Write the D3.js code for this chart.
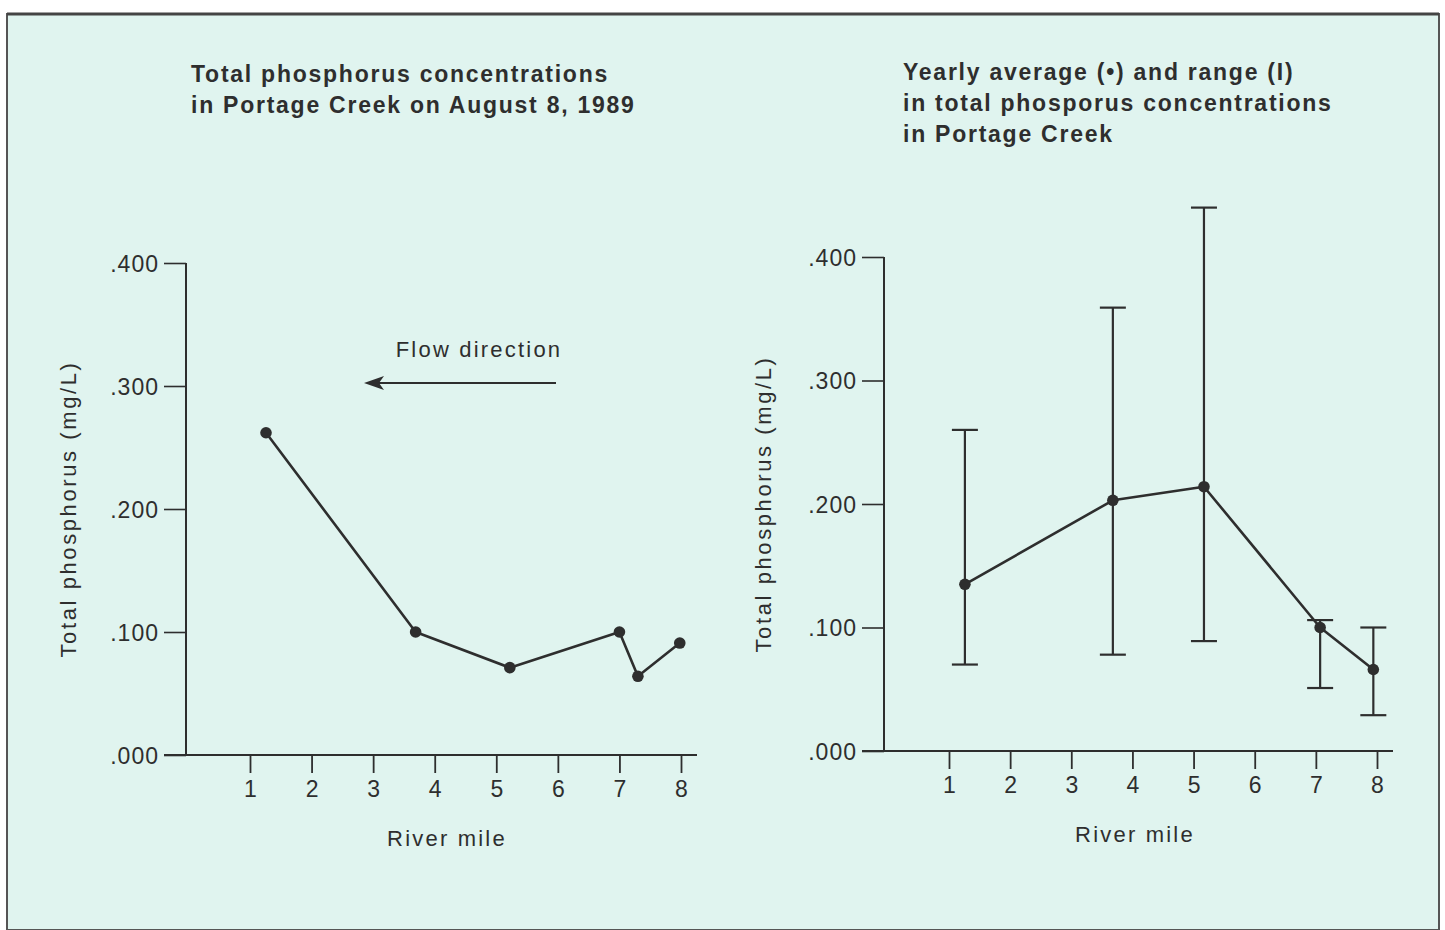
<!DOCTYPE html>
<html>
<head>
<meta charset="utf-8">
<script src="https://cdn.jsdelivr.net/npm/d3@7"></script>
<style>
  html, body { margin: 0; padding: 0; background: #ffffff; }
  svg { display: block; }
  text { font-family: "Liberation Sans", Arial, sans-serif; fill: #2e2e2e; }
</style>
</head>
<body>
<div id="chart"></div>
<script>
// --- data ---
const xTicks = [1, 2, 3, 4, 5, 6, 7, 8];
const yTicks = [0, 0.1, 0.2, 0.3, 0.4];
const yTickLabels = ['.000', '.100', '.200', '.300', '.400'];

// left panel: single survey on August 8, 1989
const augMiles = [1.26, 3.69, 5.22, 7.0, 7.3, 7.98];
const augValues = [0.262, 0.100, 0.071, 0.100, 0.064, 0.091];

// right panel: yearly average and range
const yearMiles = [1.26, 3.68, 5.17, 7.07, 7.94];
const yearAvg = [0.135, 0.203, 0.214, 0.100, 0.066];
const yearMin = [0.070, 0.078, 0.089, 0.051, 0.029];
const yearMax = [0.260, 0.359, 0.440, 0.106, 0.100];

const leftTitle = ['Total phosphorus concentrations', 'in Portage Creek on August 8, 1989'];
const rightTitle = ['Yearly average (\u2022) and range (I)', 'in total phosporus concentrations', 'in Portage Creek'];

const W = 1445, H = 930;
const ink = '#2e2e2e';

const svg = d3.select('#chart').append('svg')
  .attr('width', W)
  .attr('height', H);

// paper background with frame
svg.append('rect')
  .attr('x', 7).attr('y', 14)
  .attr('width', 1432).attr('height', 916)
  .attr('fill', '#e0f4ef')
  .attr('stroke', '#555')
  .attr('stroke-width', 2);
svg.append('line')
  .attr('x1', 7).attr('x2', 1439)
  .attr('y1', 14).attr('y2', 14)
  .attr('stroke', '#444')
  .attr('stroke-width', 3);

function drawPanel(cfg) {
  const g = svg.append('g');

  const x = d3.scaleLinear().domain([1, 8]).range([cfg.x1, cfg.x8]);
  const y = d3.scaleLinear().domain([0, 0.4]).range([cfg.y0, cfg.y4]);

  // y axis
  const yAxis = d3.axisLeft(y)
    .tickValues(yTicks)
    .tickFormat((d, i) => yTickLabels[i])
    .tickSize(22)
    .tickPadding(5);
  const ya = g.append('g')
    .attr('transform', `translate(${cfg.axisX},0)`)
    .call(yAxis);
  ya.select('.domain').remove();
  ya.selectAll('.tick line').attr('stroke', ink).attr('stroke-width', 1.6);
  ya.selectAll('.tick text')
    .attr('font-size', 23)
    .attr('fill', ink)
    .attr('dy', '0.36em')
    .style('letter-spacing', '1px')
    .style('font-family', '"Liberation Sans", Arial, sans-serif');
  g.append('line')
    .attr('x1', cfg.axisX).attr('x2', cfg.axisX)
    .attr('y1', y(0.4)).attr('y2', y(0))
    .attr('stroke', ink).attr('stroke-width', 2);

  // x axis
  const xAxis = d3.axisBottom(x)
    .tickValues(xTicks)
    .tickFormat(d3.format('d'))
    .tickSize(18)
    .tickPadding(8);
  const xa = g.append('g')
    .attr('transform', `translate(0,${cfg.y0})`)
    .call(xAxis);
  xa.select('.domain').remove();
  xa.selectAll('.tick line').attr('stroke', ink).attr('stroke-width', 1.8);
  xa.selectAll('.tick text')
    .attr('font-size', 23)
    .attr('fill', ink)
    .style('font-family', '"Liberation Sans", Arial, sans-serif');
  g.append('line')
    .attr('x1', cfg.axisX - 22).attr('x2', cfg.xEnd)
    .attr('y1', cfg.y0).attr('y2', cfg.y0)
    .attr('stroke', ink).attr('stroke-width', 2);

  // axis titles
  g.append('text')
    .attr('transform', `translate(${cfg.yTitleX},${(y(0) + y(0.4)) / 2}) rotate(-90)`)
    .attr('text-anchor', 'middle')
    .attr('font-size', 22)
    .style('letter-spacing', '2.6px')
    .text('Total phosphorus (mg/L)');
  g.append('text')
    .attr('x', cfg.xTitleX).attr('y', cfg.y0 + 91)
    .attr('text-anchor', 'middle')
    .attr('font-size', 22)
    .style('letter-spacing', '2.2px')
    .text('River mile');

  // heading
  g.append('text')
    .attr('x', cfg.titleX).attr('y', cfg.titleY)
    .attr('font-size', 23)
    .attr('font-weight', 'bold')
    .style('letter-spacing', '1.75px')
    .selectAll('tspan')
    .data(cfg.title)
    .enter().append('tspan')
    .attr('x', cfg.titleX)
    .attr('dy', (d, i) => i === 0 ? 0 : 31)
    .text(d => d);

  return { g, x, y };
}

// ---- left panel ----
const L = drawPanel({
  axisX: 186, x1: 250, x8: 681, xEnd: 697,
  y0: 755, y4: 263,
  yTitleX: 76, xTitleX: 447,
  titleX: 191, titleY: 82, title: leftTitle
});

const augData = augMiles.map((m, i) => ({ m, v: augValues[i] }));
L.g.append('path')
  .datum(augData)
  .attr('fill', 'none')
  .attr('stroke', ink)
  .attr('stroke-width', 2.6)
  .attr('stroke-linejoin', 'round')
  .attr('d', d3.line().x(d => L.x(d.m)).y(d => L.y(d.v)));
L.g.selectAll('.pt')
  .data(augData)
  .enter().append('circle')
  .attr('cx', d => L.x(d.m))
  .attr('cy', d => L.y(d.v))
  .attr('r', 5.8)
  .attr('fill', ink);

// flow direction arrow
L.g.append('text')
  .attr('x', 479).attr('y', 357)
  .attr('text-anchor', 'middle')
  .attr('font-size', 22)
  .style('letter-spacing', '2.2px')
  .text('Flow direction');
L.g.append('line')
  .attr('x1', 556).attr('x2', 372)
  .attr('y1', 383).attr('y2', 383)
  .attr('stroke', ink).attr('stroke-width', 2);
L.g.append('path')
  .attr('d', 'M364,383 L384,376 L379,383 L384,390 Z')
  .attr('fill', ink);

// ---- right panel ----
const R = drawPanel({
  axisX: 884, x1: 949, x8: 1377, xEnd: 1393,
  y0: 751, y4: 257,
  yTitleX: 771, xTitleX: 1135,
  titleX: 903, titleY: 80, title: rightTitle
});

const yearData = yearMiles.map((m, i) => ({ m, avg: yearAvg[i], lo: yearMin[i], hi: yearMax[i] }));
const cap = 13;
const bars = R.g.selectAll('.range')
  .data(yearData)
  .enter().append('g');
bars.append('line')
  .attr('x1', d => R.x(d.m)).attr('x2', d => R.x(d.m))
  .attr('y1', d => R.y(d.lo)).attr('y2', d => R.y(d.hi))
  .attr('stroke', ink).attr('stroke-width', 2.2);
bars.append('line')
  .attr('x1', d => R.x(d.m) - cap).attr('x2', d => R.x(d.m) + cap)
  .attr('y1', d => R.y(d.hi)).attr('y2', d => R.y(d.hi))
  .attr('stroke', ink).attr('stroke-width', 2.2);
bars.append('line')
  .attr('x1', d => R.x(d.m) - cap).attr('x2', d => R.x(d.m) + cap)
  .attr('y1', d => R.y(d.lo)).attr('y2', d => R.y(d.lo))
  .attr('stroke', ink).attr('stroke-width', 2.2);

R.g.append('path')
  .datum(yearData)
  .attr('fill', 'none')
  .attr('stroke', ink)
  .attr('stroke-width', 2.6)
  .attr('stroke-linejoin', 'round')
  .attr('d', d3.line().x(d => R.x(d.m)).y(d => R.y(d.avg)));
R.g.selectAll('.avg')
  .data(yearData)
  .enter().append('circle')
  .attr('cx', d => R.x(d.m))
  .attr('cy', d => R.y(d.avg))
  .attr('r', 5.8)
  .attr('fill', ink);
</script>
</body>
</html>
